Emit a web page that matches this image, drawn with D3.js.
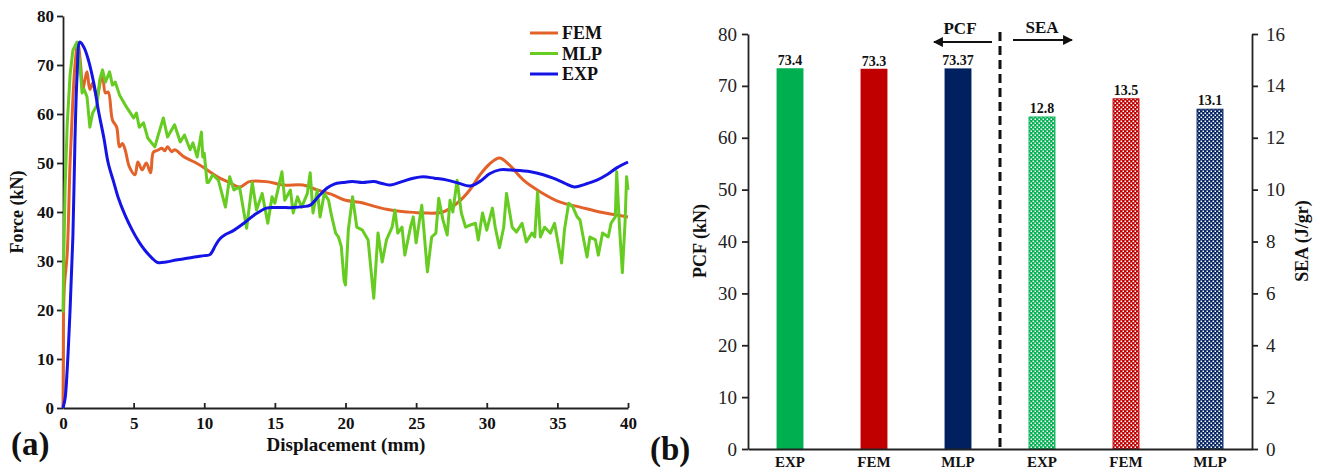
<!DOCTYPE html>
<html>
<head>
<meta charset="utf-8">
<script src="https://cdn.jsdelivr.net/npm/d3@7"></script>
<style>
  body { margin: 0; background: #fff; }
  svg { display: block; font-family: "Liberation Serif", "Times New Roman", serif; }
</style>
</head>
<body>
<svg id="fig" width="1320" height="472"></svg>
<script>
// ---- (a) force-displacement curves: [displacement mm, force kN] ----
const expCurve = [[0,0],[0.15,2],[0.3,8],[0.5,20],[0.7,35],[0.85,55],[1.0,68],[1.2,74.7],[1.5,73.5],[1.8,71],[2.2,66],
  [2.5,60.8],[2.9,55],[3.2,50],[3.6,46],[3.9,43],[4.4,39.3],[4.9,36.3],[5.4,33.8],[5.8,32.2],[6.3,30.6],[6.7,29.7],
  [7.3,29.8],[8.0,30.2],[8.5,30.4],[9.3,30.8],[10.0,31.1],[10.4,31.3],[10.8,33.2],[11.1,34.5],[11.5,35.4],[12.0,36.1],
  [12.8,37.7],[13.5,39.3],[14.4,40.8],[15.3,40.9],[16.3,40.9],[17.0,41.1],[17.5,41.4],[18.1,43.2],[18.7,44.9],[19.2,45.7],
  [19.8,46],[20.5,46.2],[21.2,46.0],[22,46.2],[22.6,45.8],[23.2,45.5],[24,46.2],[24.8,46.9],[25.5,47.2],[26.3,46.9],
  [27.2,46.5],[28,45.9],[28.8,45.3],[29.5,46.2],[30.2,47.8],[30.9,48.6],[32,48.5],[33.1,48.2],[34,47.6],[34.7,46.9],
  [35.5,45.9],[36.2,45.1],[37,45.7],[37.8,46.5],[38.5,47.6],[39.2,49],[40,50.2]];

const femCurve = [[0,0],[0.02,10],[0.04,19.5],[0.1,25],[0.3,31.6],[0.5,50],[0.7,63],[0.85,70],[1.05,74.5],[1.25,70],
  [1.4,65],[1.55,67],[1.7,68.6],[1.9,65],[2.1,66.3],[2.4,63.3],[2.6,66],[2.8,68.4],[3.0,64.3],[3.2,64.5],[3.5,58.8],
  [3.8,57.3],[4.0,53.3],[4.2,54],[4.4,52.7],[4.7,49.2],[5.1,47.6],[5.3,50.2],[5.6,48.6],[5.9,50],[6.2,48],[6.4,52.2],
  [6.7,52.6],[7.0,53],[7.2,52.5],[7.4,53.3],[7.7,52.3],[7.9,52.7],[8.6,51.2],[9.3,50.2],[9.9,49.2],[10.5,48],[11.1,46.9],
  [11.8,46],[12.5,45.1],[13.2,46.2],[14.4,46.2],[15.6,45.5],[17.0,45.5],[18,44.5],[19.1,43.5],[20,42.4],[21,42],[22,41.2],
  [23.2,40.4],[24.4,40],[25.5,39.8],[26.9,40],[27.9,41.8],[28.8,44.5],[29.5,47.5],[30.2,49.8],[30.9,51],[31.6,49.6],
  [32.6,46.5],[33.8,44.1],[35.2,42],[36.6,41],[38,40],[39,39.5],[40,39]];

const mlpCurve = [[0,19.5],[0.05,30],[0.15,45],[0.3,58],[0.5,68],[0.7,73],[1.0,74.7],[1.2,70],[1.35,64.3],[1.5,65],
  [1.7,63.5],[1.9,57.3],[2.1,60.2],[2.4,61.8],[2.6,67],[2.8,69],[3.0,66.5],[3.3,68.6],[3.5,65.9],[3.7,66.5],[4.0,63.9],
  [4.5,61.4],[5.0,59.2],[5.2,60.2],[5.4,57.3],[5.7,58.2],[6.0,55.1],[6.5,53.3],[7.1,59.2],[7.4,55.3],[7.9,57.8],[8.3,54.3],
  [8.6,55.7],[9.0,52.7],[9.2,54.1],[9.5,51.2],[9.8,56.3],[9.9,51.2],[10.0,52],[10.2,46],[10.3,46],[10.6,47.6],[11.0,46.5],
  [11.5,41],[11.8,47.2],[12.1,44.5],[12.5,45.1],[13.0,36.7],[13.4,46],[13.7,40.4],[14.1,43.8],[14.5,37.7],[14.8,43.1],
  [15.0,41.8],[15.5,48.2],[15.7,42.4],[16.1,44.5],[16.3,39.8],[16.6,43.1],[16.9,41],[17.3,43.8],[17.5,48],[17.7,39.8],
  [18.0,44.5],[18.2,39],[18.5,43.8],[18.8,42.4],[19.0,39.4],[19.3,35.7],[19.5,34.9],[19.7,33],[19.9,26],[20.0,25.1],
  [20.2,36.3],[20.5,43.1],[20.8,36.9],[21.2,36.3],[21.6,34.3],[22.0,22.4],[22.3,35.7],[22.6,29.8],[22.9,34.3],[23.3,36.9],
  [23.5,40.4],[23.7,35.7],[24.0,36.9],[24.2,31.2],[24.6,36.9],[24.8,39],[25.0,33.7],[25.4,41.4],[25.8,27.8],[26.1,34.9],
  [26.4,35.7],[26.6,42.8],[26.9,38.4],[27.2,35.3],[27.4,42.4],[27.6,40],[27.9,46.5],[28.2,39.8],[28.5,36.9],[28.8,37.3],
  [29.2,37.7],[29.4,34.3],[29.7,39.8],[30.0,36.3],[30.4,40.8],[30.6,36.9],[30.9,32.7],[31.2,36.9],[31.4,43.8],[31.8,36.9],
  [32.1,35.9],[32.5,37.7],[32.8,33.9],[33.2,35.7],[33.4,34.9],[33.6,44.1],[33.8,34.9],[34.1,36.9],[34.5,35.7],[34.8,37.7],
  [35.3,29.6],[35.5,36.3],[35.8,41.8],[36.1,41],[36.4,39],[36.6,38.4],[36.8,35.3],[37.1,30.8],[37.3,34.9],[37.7,34.3],
  [37.9,31.2],[38.2,35.7],[38.6,34.9],[38.8,37.7],[39.1,39],[39.2,48.2],[39.4,36.9],[39.6,27.6],[39.8,38.4],[39.9,47.2],[40,44.5]];

const xTicksA = [0, 5, 10, 15, 20, 25, 30, 35, 40];
const yTicksA = [0, 10, 20, 30, 40, 50, 60, 70, 80];

// ---- (b) peak crushing force and specific energy absorption ----
const methods = ["EXP", "FEM", "MLP"];
const pcfValues = [73.4, 73.3, 73.37];
const pcfLabels = ["73.4", "73.3", "73.37"];
const seaValues = [12.8, 13.5, 13.1];
const seaLabels = ["12.8", "13.5", "13.1"];
const methodColors = ["#00b050", "#c00000", "#002060"];
const pcfTicks = [0, 10, 20, 30, 40, 50, 60, 70, 80];
const seaTicks = [0, 2, 4, 6, 8, 10, 12, 14, 16];

const svg = d3.select("#fig");

// ================= panel (a) =================
const xA = d3.scaleLinear().domain([0, 40]).range([63, 628]);
const yA = d3.scaleLinear().domain([0, 80]).range([408, 16]);

const gA = svg.append("g");

const xAxisA = gA.append("g")
  .attr("transform", `translate(0,${yA(0)})`)
  .call(d3.axisBottom(xA).tickValues(xTicksA).tickSize(-5).tickPadding(9).tickSizeOuter(0));
const yAxisA = gA.append("g")
  .attr("transform", `translate(${xA(0)},0)`)
  .call(d3.axisLeft(yA).tickValues(yTicksA).tickSize(6).tickPadding(3).tickSizeOuter(0));

[xAxisA, yAxisA].forEach(ax => {
  ax.selectAll("path, line").attr("stroke", "#222").attr("stroke-width", 1.8);
  ax.selectAll("text").attr("font-family", "Liberation Serif").attr("font-weight", "bold")
    .attr("font-size", 17).attr("fill", "#111");
});

const series = [
  { name: "FEM", data: femCurve, color: "#e2622a", curve: d3.curveCatmullRom.alpha(0.5) },
  { name: "MLP", data: mlpCurve, color: "#66cc22", curve: d3.curveLinear },
  { name: "EXP", data: expCurve, color: "#1414e6", curve: d3.curveCatmullRom.alpha(0.5) }
];

// draw order: FEM under MLP under EXP
series.forEach(s => {
  const line = d3.line().x(d => xA(d[0])).y(d => yA(d[1])).curve(s.curve);
  gA.append("path")
    .datum(s.data)
    .attr("fill", "none")
    .attr("stroke", s.color)
    .attr("stroke-width", 3)
    .attr("stroke-linejoin", "round")
    .attr("d", line);
});

// legend
const legend = gA.append("g").attr("transform", "translate(530,33)");
series.forEach((s, i) => {
  const row = legend.append("g").attr("transform", `translate(0,${i * 20.5})`);
  row.append("line").attr("x1", 0).attr("x2", 28).attr("stroke", s.color).attr("stroke-width", 3);
  row.append("text").attr("x", 32).attr("dy", "0.35em")
    .attr("font-weight", "bold").attr("font-size", 18).attr("fill", "#111").text(s.name);
});

gA.append("text")
  .attr("transform", `translate(23,212) rotate(-90)`)
  .attr("text-anchor", "middle")
  .attr("font-weight", "bold").attr("font-size", 18).attr("fill", "#111")
  .text("Force (kN)");

gA.append("text")
  .attr("x", 346).attr("y", 451)
  .attr("text-anchor", "middle")
  .attr("font-weight", "bold").attr("font-size", 19).attr("fill", "#111")
  .text("Displacement (mm)");

svg.append("text").attr("x", 11).attr("y", 455)
  .attr("font-weight", "bold").attr("font-size", 33).attr("fill", "#111").text("(a)");

// ================= panel (b) =================
const bandNames = methods.map(m => "PCF " + m).concat(methods.map(m => "SEA " + m));
const xB = d3.scaleBand().domain(bandNames).range([748, 1252]).paddingInner(0.68).paddingOuter(0.34);
const yPCF = d3.scaleLinear().domain([0, 80]).range([449, 34]);
const ySEA = d3.scaleLinear().domain([0, 16]).range([449, 34]);

const gB = svg.append("g");

// checker fill for the SEA bars
const defs = svg.append("defs");
methodColors.forEach((c, i) => {
  const p = defs.append("pattern").attr("id", "chk" + i)
    .attr("patternUnits", "userSpaceOnUse").attr("width", 4).attr("height", 4);
  p.append("rect").attr("width", 4).attr("height", 4).attr("fill", c);
  p.append("rect").attr("x", 0.5).attr("y", 0.5).attr("width", 1.6).attr("height", 1.6).attr("fill", "#fff");
  p.append("rect").attr("x", 2.5).attr("y", 2.5).attr("width", 1.6).attr("height", 1.6).attr("fill", "#fff");
});

const pcfRows = methods.map((m, i) => ({ key: "PCF " + m, v: pcfValues[i], label: pcfLabels[i], i }));
const seaRows = methods.map((m, i) => ({ key: "SEA " + m, v: seaValues[i], label: seaLabels[i], i }));

gB.selectAll("rect.pcf").data(pcfRows).enter().append("rect")
  .attr("class", "pcf")
  .attr("x", d => xB(d.key)).attr("width", xB.bandwidth())
  .attr("y", d => yPCF(d.v)).attr("height", d => yPCF(0) - yPCF(d.v))
  .attr("fill", d => methodColors[d.i]);

gB.selectAll("rect.sea").data(seaRows).enter().append("rect")
  .attr("class", "sea")
  .attr("x", d => xB(d.key) + 0.5).attr("width", xB.bandwidth() - 1)
  .attr("y", d => ySEA(d.v)).attr("height", d => ySEA(0) - ySEA(d.v))
  .attr("fill", d => `url(#chk${d.i})`)
  .attr("stroke", d => methodColors[d.i]).attr("stroke-width", 1);

gB.selectAll("text.pcfv").data(pcfRows).enter().append("text")
  .attr("x", d => xB(d.key) + xB.bandwidth() / 2).attr("y", d => yPCF(d.v) - 3)
  .attr("text-anchor", "middle").attr("font-weight", "bold").attr("font-size", 14).attr("fill", "#111")
  .text(d => d.label);

gB.selectAll("text.seav").data(seaRows).enter().append("text")
  .attr("x", d => xB(d.key) + xB.bandwidth() / 2).attr("y", d => ySEA(d.v) - 4)
  .attr("text-anchor", "middle").attr("font-weight", "bold").attr("font-size", 14).attr("fill", "#111")
  .text(d => d.label);

const yAxisPCF = gB.append("g").attr("transform", "translate(748,0)")
  .call(d3.axisLeft(yPCF).tickValues(pcfTicks).tickSize(6).tickPadding(5).tickSizeOuter(0));
const yAxisSEA = gB.append("g").attr("transform", "translate(1252,0)")
  .call(d3.axisRight(ySEA).tickValues(seaTicks).tickSize(6).tickPadding(8).tickSizeOuter(0));
const xAxisB = gB.append("g").attr("transform", `translate(0,${yPCF(0)})`)
  .call(d3.axisBottom(xB).tickSize(0).tickPadding(7).tickFormat(d => d.split(" ")[1]));

[yAxisPCF, yAxisSEA, xAxisB].forEach(ax => {
  ax.selectAll("path, line").attr("stroke", "#222").attr("stroke-width", 1.8);
  ax.selectAll("text").attr("font-family", "Liberation Serif").attr("font-size", 19).attr("fill", "#222");
});
xAxisB.selectAll("text").attr("font-weight", "bold").attr("font-size", 15).attr("fill", "#111");

// divider between the two groups
const divX = (xB("PCF MLP") + xB.bandwidth() + xB("SEA EXP")) / 2;
gB.append("line")
  .attr("x1", divX).attr("x2", divX).attr("y1", 32).attr("y2", yPCF(0))
  .attr("stroke", "#111").attr("stroke-width", 3).attr("stroke-dasharray", "9,5");

defs.append("marker").attr("id", "arrow")
  .attr("viewBox", "0 0 10 10").attr("refX", 9).attr("refY", 5)
  .attr("markerWidth", 4.5).attr("markerHeight", 4.5).attr("orient", "auto")
  .append("path").attr("d", "M0,0 L10,5 L0,10 z").attr("fill", "#111");

gB.append("line").attr("x1", divX - 8).attr("x2", divX - 66).attr("y1", 42).attr("y2", 42)
  .attr("stroke", "#111").attr("stroke-width", 2.2).attr("marker-end", "url(#arrow)");
gB.append("line").attr("x1", divX + 13).attr("x2", divX + 72).attr("y1", 40).attr("y2", 40)
  .attr("stroke", "#111").attr("stroke-width", 2.2).attr("marker-end", "url(#arrow)");

gB.append("text").attr("x", divX - 40).attr("y", 34).attr("text-anchor", "middle")
  .attr("font-weight", "bold").attr("font-size", 17).attr("fill", "#111").text("PCF");
gB.append("text").attr("x", divX + 42).attr("y", 33).attr("text-anchor", "middle")
  .attr("font-weight", "bold").attr("font-size", 17).attr("fill", "#111").text("SEA");

gB.append("text")
  .attr("transform", `translate(706,241) rotate(-90)`)
  .attr("text-anchor", "middle")
  .attr("font-weight", "bold").attr("font-size", 18).attr("fill", "#111")
  .text("PCF (kN)");

gB.append("text")
  .attr("transform", `translate(1308,241) rotate(-90)`)
  .attr("text-anchor", "middle")
  .attr("font-weight", "bold").attr("font-size", 18).attr("fill", "#111")
  .text("SEA (J/gr)");

svg.append("text").attr("x", 650).attr("y", 460)
  .attr("font-weight", "bold").attr("font-size", 33).attr("fill", "#111").text("(b)");
</script>
</body>
</html>
